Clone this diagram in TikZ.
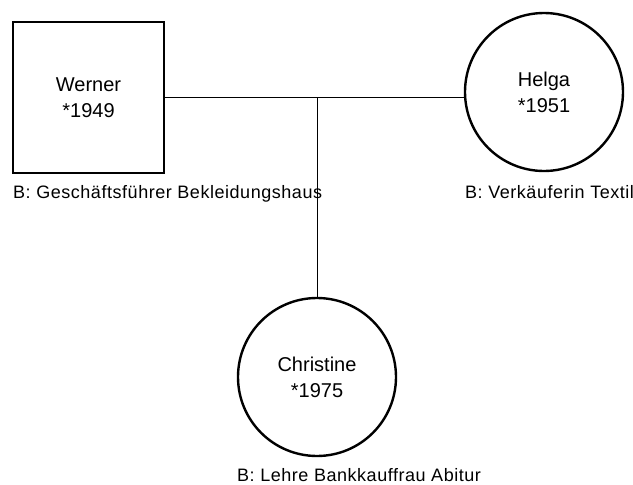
\documentclass[tikz,border=0pt]{standalone}
\usepackage{fontspec}
\setmainfont{Liberation Sans}
\newfontfamily\jobfont[LetterSpace=3]{Liberation Sans}
\begin{document}
\begin{tikzpicture}[x=1pt,y=-1pt,
  person/.style={draw=black, line width=2.4pt, inner sep=0pt, outer sep=0pt,
    align=center, font=\fontsize{20}{26}\selectfont},
  male/.style={person, rectangle, minimum width=151pt, minimum height=151pt},
  female/.style={person, circle, minimum size=158pt},
  job/.style={anchor=base west, inner sep=0pt, font=\jobfont\fontsize{18}{22}\selectfont},
  tie/.style={draw=black, line width=0.9pt}]
  \useasboundingbox (0,0) rectangle (633,485);

  % parents and child
  \node[male]   (werner)    at (88.5,97.5) {Werner\\*1949};
  \node[female] (helga)     at (544,92)    {Helga\\*1951};
  \node[female] (christine) at (317,377)   {Christine\\*1975};

  % marriage line and descent line
  \coordinate (couple) at (317,97.5);
  \draw[tie] (werner.east) -- (werner.east -| helga.west) coordinate (hw);
  \draw[tie] (couple) -- (christine.north);

  % occupations
  \node[job] (wernerjob)    at (13,198)  {B: Geschäftsführer Bekleidungshaus};
  \node[job] (helgajob)     at (465,198) {B: Verkäuferin Textil};
  \node[job] (christinejob) at (237,481) {B: Lehre Bankkauffrau Abitur};
\end{tikzpicture}
\end{document}
